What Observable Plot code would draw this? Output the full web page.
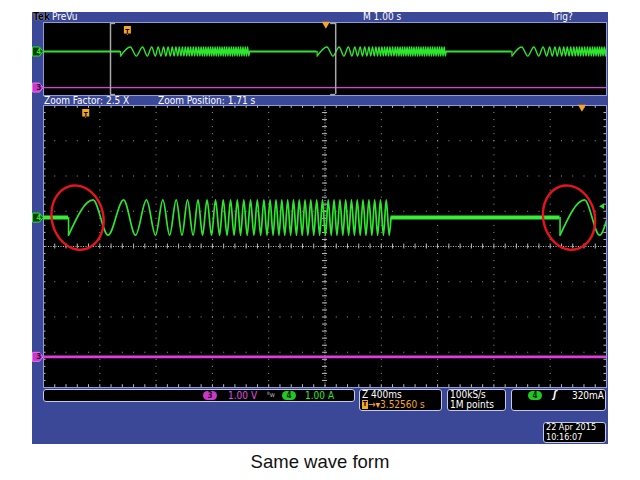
<!DOCTYPE html>
<html><head><meta charset="utf-8">
<script src="https://cdn.jsdelivr.net/npm/d3@7"></script>
<script src="https://cdn.jsdelivr.net/npm/@observablehq/plot@0.6"></script>
<style>
body{margin:0;background:#fff;}
#root{position:relative;width:640px;height:480px;overflow:hidden;font-family:"DejaVu Sans Condensed","DejaVu Sans",sans-serif;font-stretch:condensed;}
.t{position:absolute;white-space:nowrap;font-size:10px;line-height:10px;color:#fff;}
.box{position:absolute;background:#000;border:1px solid #c3cae6;border-radius:3px;box-sizing:border-box;}
.pill{position:absolute;border-radius:5px;font-size:8px;line-height:9px;height:9px;text-align:center;font-weight:bold;}
#panel{position:absolute;left:32px;top:12px;width:576px;height:432px;background:#3b4897;}
#caption{position:absolute;left:0;width:640px;top:452px;text-align:center;font-family:"Liberation Sans",Arial,sans-serif;font-size:18.5px;line-height:20px;color:#111;font-stretch:normal;}
</style></head>
<body><div id="root"><div id="panel"></div></div>
<script>
// ---------- data ----------
const recordSpan = [0, 10];            // s, overview record (10 div x 1.00 s)
const zoomWindow = [1.19, 5.19];       // s, zoomed view (10 div x 400 ms)
const burstStarts = [1.368, 4.86, 8.32]; // s, start of each chirp burst
const burstLength = 2.291;             // s
// alternating trough / peak times inside a burst (s after burst start)
const ch4Extrema = [0, 0.174, 0.281, 0.391, 0.476, 0.554, 0.618, 0.670, 0.718, 0.765, 0.806, 0.845,
  0.885, 0.920, 0.952, 0.984, 1.016, 1.044, 1.073, 1.099, 1.126, 1.151, 1.176, 1.199, 1.222, 1.245,
  1.269, 1.293, 1.317, 1.341, 1.365, 1.388, 1.410, 1.432, 1.453, 1.474, 1.495, 1.515, 1.536, 1.557,
  1.578, 1.598, 1.619, 1.639, 1.660, 1.680, 1.700, 1.721, 1.742, 1.763, 1.784, 1.804, 1.825, 1.845,
  1.866, 1.886, 1.907, 1.928, 1.949, 1.969, 1.990, 2.010, 2.031, 2.051, 2.072, 2.092, 2.113, 2.134,
  2.155, 2.175, 2.196, 2.216, 2.237, 2.257, 2.278];
const ch4Offset = 0.82;   // div
const ch4Amp = 0.5;       // div (0.5 A at 1.00 A/div)
const ch3Offset = -3.13;  // div
const triggerTime = 1.49; // s
const expansionDelta = 3.5256; // s  (T -> expansion point)
const triggerLevel = 0.32;     // A
const topLabels = {tek: "Tek", mode: "PreVu", timebase: "M 1.00 s", trig: "Trig?"};
const zoomLabels = ["Zoom Factor: 2.5 X", "Zoom Position: 1.71 s"];
const statusCh = [{ch: "3", scale: "1.00 V"}, {ch: "4", scale: "1.00 A"}];
const zoomStatus = ["Z 400ms", "3.52560 s"];
const acqStatus = ["100kS/s", "1M points"];
const trigStatus = {ch: "4", level: "320mA"};
const dateLines = ["22 Apr 2015", "10:16:07"];
const captionText = "Same wave form";

// ---------- derived tables ----------
const bursts = [];
burstStarts.forEach((s, b) => {
  ch4Extrema.forEach((e, i) => bursts.push({t: s + e, v: ch4Offset + (i % 2 ? ch4Amp : -ch4Amp), b}));
  bursts.push({t: s + burstLength, v: ch4Offset, b});
});
const flats = [];
let prev = recordSpan[0];
for (const s of burstStarts) { flats.push({t1: prev, t2: s}); prev = s + burstLength; }
if (prev < recordSpan[1]) flats.push({t1: prev, t2: recordSpan[1]});

const GREEN = "#2fe52f", MAG = "#e03ce0", ORANGE = "#f5a623", GRID = "#9a9a9a";
const tag = {draw(c){ c.moveTo(-5,-4.5); c.lineTo(2,-4.5); c.lineTo(5.5,0); c.lineTo(2,4.5); c.lineTo(-5,4.5); c.closePath(); }};
const tBadge = {draw(c){ c.moveTo(-3.5,-4.5); c.lineTo(3.5,-4.5); c.lineTo(3.5,3); c.lineTo(1,3); c.lineTo(0,4.5); c.lineTo(-1,3); c.lineTo(-3.5,3); c.closePath(); }};
const redLoop = {draw(c){
  const rx = 26, ry = 32, n = 60;
  for (let i = 0; i <= n; i++) {
    const a = 1.2 + i / n * (2 * Math.PI + 0.5);
    const w = 1 + 0.05 * Math.sin(a * 2);
    const px = rx * w * Math.cos(a), py = ry * w * Math.sin(a);
    i ? c.lineTo(px, py) : c.moveTo(px, py);
  }
}};

function place(el, left, top) { el.style.position = "absolute"; el.style.left = left + "px"; el.style.top = top + "px"; document.getElementById("root").appendChild(el); return el; }
function text(str, left, top, style = "") { const d = document.createElement("div"); d.className = "t"; d.textContent = str; d.style.cssText += style; return place(d, left, top); }

const chanTags = (fontSize) => [
  Plot.dot([ch4Offset], {y: d => d, frameAnchor: "left", dx: -6, symbol: tag, r: 1, fill: "#073d07", stroke: GREEN, strokeWidth: 1}),
  Plot.text(["4"], {y: ch4Offset, frameAnchor: "left", dx: -7, fill: GREEN, fontSize, fontWeight: "bold"}),
  Plot.dot([ch3Offset], {y: d => d, frameAnchor: "left", dx: -6, symbol: tag, r: 1, fill: "#c938c9", stroke: "#f070f0", strokeWidth: 1}),
  Plot.text(["3"], {y: ch3Offset, frameAnchor: "left", dx: -7, fill: "#2a002a", fontSize, fontWeight: "bold"})
];

// ---------- overview ----------
const overview = Plot.plot({
  width: 577, height: 75, marginLeft: 11, marginRight: 3, marginTop: 1, marginBottom: 1,
  x: {domain: recordSpan, axis: null}, y: {domain: [-4, 4], axis: null},
  style: {background: "transparent", overflow: "visible"},
  marks: [
    Plot.frame({fill: "#000", stroke: "#8d9bd6"}),
    Plot.ruleY([ch3Offset], {stroke: MAG, strokeWidth: 1.2}),
    Plot.ruleY(flats, {x1: "t1", x2: "t2", y: ch4Offset, stroke: GREEN, strokeWidth: 2.2, clip: true}),
    Plot.ruleX(burstStarts, {y1: ch4Offset, y2: ch4Offset - ch4Amp, stroke: GREEN, strokeWidth: 1.3, clip: true}),
    Plot.line(bursts, {x: "t", y: "v", z: "b", curve: "monotone-x", stroke: GREEN, strokeWidth: 1.4, clip: true}),
    Plot.ruleX(zoomWindow, {y1: -3.9, y2: 3.9, stroke: "#a8a8a8", strokeWidth: 1.5}),
    Plot.ruleY([3.9, -3.9], {x1: zoomWindow[0], x2: zoomWindow[0] + 0.09, stroke: "#a8a8a8", strokeWidth: 1.5}),
    Plot.ruleY([3.9, -3.9], {x1: zoomWindow[1] - 0.09, x2: zoomWindow[1], stroke: "#a8a8a8", strokeWidth: 1.5}),
    Plot.dot([triggerTime], {x: d => d, frameAnchor: "top", dy: 8, symbol: tBadge, r: 1, fill: ORANGE}),
    Plot.text(["T"], {x: triggerTime, frameAnchor: "top", dy: 7, fill: "#000", fontSize: 7, fontWeight: "bold"}),
    Plot.dot([triggerTime + expansionDelta], {x: d => d, frameAnchor: "top", dy: 1.5, symbol: "triangle", rotate: 180, r: 3, fill: ORANGE}),
    ...chanTags(8)
  ]
});
place(overview, 32, 21);

// ---------- zoomed main view ----------
const [z0, z1] = zoomWindow, divT = (z1 - z0) / 10, centerT = z0 + 5 * divT;
const gridX = d3.range(1, 10).filter(i => i !== 5).map(i => z0 + i * divT);
const gridY = [-3, -2, -1, 1, 2, 3];
const minorX = d3.range(0, 51).map(i => z0 + i * divT / 5);
const minorY = d3.range(0, 41).map(i => -4 + i * 0.2);
const mainStarts = burstStarts.filter(s => s > z0 && s < z1);

const main = Plot.plot({
  width: 577, height: 284, marginLeft: 11, marginRight: 3, marginTop: 1, marginBottom: 1,
  x: {domain: zoomWindow, axis: null}, y: {domain: [-4, 4], axis: null},
  style: {background: "transparent", overflow: "visible"},
  marks: [
    Plot.frame({fill: "#000"}),
    Plot.ruleX(gridX, {stroke: GRID, strokeDasharray: "1,6.05"}),
    Plot.ruleY(gridY, {stroke: GRID, strokeDasharray: "1,10.26"}),
    Plot.ruleX([centerT], {stroke: "#bdbdbd", strokeDasharray: "1,1.5"}),
    Plot.ruleY([0], {stroke: "#bdbdbd", strokeDasharray: "1,1.5"}),
    Plot.ruleY(minorY, {x1: centerT - 0.018, x2: centerT + 0.018, stroke: "#bdbdbd"}),
    Plot.ruleX(minorX, {y1: -0.07, y2: 0.07, stroke: "#bdbdbd"}),
    Plot.ruleX(minorX, {y1: -4, y2: -3.92, stroke: "#bdbdbd"}),
    Plot.ruleX(minorX, {y1: 3.92, y2: 4, stroke: "#bdbdbd"}),
    Plot.ruleY(minorY, {x1: z0, x2: z0 + 0.018, stroke: "#bdbdbd"}),
    Plot.ruleY(minorY, {x1: z1 - 0.018, x2: z1, stroke: "#bdbdbd"}),
    Plot.frame({stroke: "#8d9bd6"}),
    Plot.ruleY([ch3Offset], {stroke: MAG, strokeWidth: 2.6}),
    Plot.ruleY(flats, {x1: "t1", x2: "t2", y: ch4Offset, stroke: "#36ee36", strokeWidth: 4, clip: true}),
    Plot.ruleX(burstStarts, {y1: ch4Offset, y2: ch4Offset - ch4Amp, stroke: GREEN, strokeWidth: 1.6, clip: true}),
    Plot.line(bursts, {x: "t", y: "v", z: "b", curve: "monotone-x", stroke: GREEN, strokeWidth: 1.7, clip: true}),
    Plot.dot([triggerTime], {x: d => d, frameAnchor: "top", dy: 8, symbol: tBadge, r: 1, fill: ORANGE}),
    Plot.text(["T"], {x: triggerTime, frameAnchor: "top", dy: 7, fill: "#000", fontSize: 7, fontWeight: "bold"}),
    Plot.dot([triggerTime + expansionDelta], {x: d => d, frameAnchor: "top", dy: 1.5, symbol: "triangle", rotate: 180, r: 3, fill: ORANGE}),
    Plot.dot([ch4Offset + triggerLevel], {y: d => d, frameAnchor: "right", dx: -4, symbol: "triangle", rotate: -90, r: 2.2, fill: GREEN}),
    Plot.dot(mainStarts, {x: d => d, y: ch4Offset, dx: 9, symbol: redLoop, r: 1, fill: "none", stroke: "#e8141c", strokeWidth: 2.4}),
    ...chanTags(8)
  ]
});
place(main, 32, 104);

// ---------- header / strips ----------
text(topLabels.tek, 33, 12, "color:#000;font-weight:bold;text-shadow:0 0 1px #fff;");
text(topLabels.mode, 52, 12);
text(topLabels.timebase, 363, 12);
text(topLabels.trig, 552, 12);
text(zoomLabels[0], 44, 96);
text(zoomLabels[1], 158, 96);

// ---------- status boxes ----------
function box(l, t, w, h) { const d = document.createElement("div"); d.className = "box"; d.style.width = w + "px"; d.style.height = h + "px"; return place(d, l, t); }
function pill(str, l, t, bg, fg) { const d = document.createElement("div"); d.className = "pill"; d.textContent = str; d.style.cssText += `width:14px;background:${bg};color:${fg};`; return place(d, l, t); }
box(43, 389, 312, 13);
pill(statusCh[0].ch, 203, 391, "#c938c9", "#2a002a");
text(statusCh[0].scale, 228, 391, "color:#e050e0;");
text("ᴮw", 267, 390, "color:#bbb;font-size:7px;");
pill(statusCh[1].ch, 282, 391, "#22c822", "#002a00");
text(statusCh[1].scale, 305, 391, "color:" + GREEN + ";");

box(359, 389, 83, 22);
text(zoomStatus[0], 362, 390, "line-height:9px;");
text("T", 362, 400, "background:" + ORANGE + ";color:#000;font-size:7px;line-height:9px;width:6px;text-align:center;font-weight:bold;");
text("→▾" + zoomStatus[1], 368, 400, "color:" + ORANGE + ";line-height:9px;");

box(447, 389, 59, 22);
text(acqStatus[0], 450, 390, "line-height:9px;");
text(acqStatus[1], 450, 400, "line-height:9px;");

box(511, 389, 95, 22);
pill(trigStatus.ch, 528, 391, "#22c822", "#002a00");
text("ʃ", 553, 390, "color:#fff;font-style:italic;font-weight:bold;");
const lv = text(trigStatus.level, 0, 391); lv.style.left = ""; lv.style.right = (640 - 604) + "px";

box(543, 422, 63, 21);
text(dateLines[0], 546, 423, "line-height:9px;font-size:9px;");
text(dateLines[1], 546, 433, "line-height:9px;font-size:9px;");

const cap = document.createElement("div"); cap.id = "caption"; cap.textContent = captionText;
document.getElementById("root").appendChild(cap);
</script>
</body></html>
